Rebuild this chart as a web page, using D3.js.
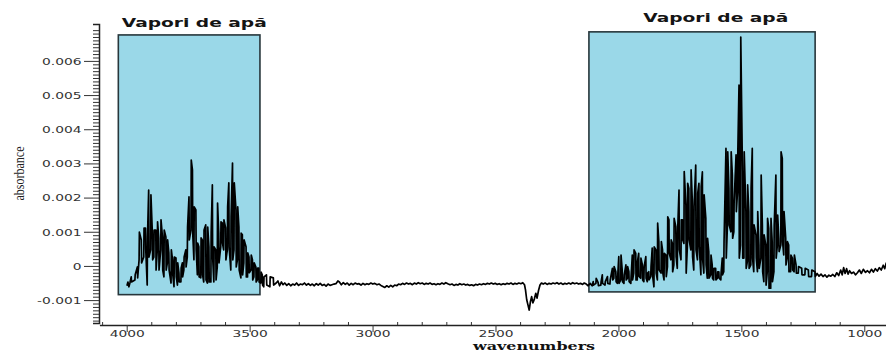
<!DOCTYPE html>
<html>
<head>
<meta charset="utf-8">
<script src="https://cdn.jsdelivr.net/npm/d3@7"></script>
<style>
  html, body { margin: 0; padding: 0; background: #fff; }
  svg { display: block; }
</style>
</head>
<body>
<svg id="chart" width="886" height="352"></svg>
<script>
// ---- Spectrum data: wavenumber (cm-1) and absorbance in units of 1e-3 ----
// Plain segments are [wavenumber, absorbance]; the dense water-vapour bands are
// stored as min/max envelopes [wavenumber, max, min] per ~6 cm-1 bin.

const edgeOH = [[3999,-0.58],[3995,-0.47],[3991,-0.61],[3987,-0.50]];

const bandOH = [
  [3981,-0.32,-0.47],[3966,-0.26,-0.41],[3956,-0.03,-0.35],[3949,0.99,0.18],[3940,0.76,0.09],
  [3930,1.11,0.26],[3923,1.11,0.47],[3916,0.85,-0.56],[3910,2.22,0.26],[3902,2.08,0.47],
  [3895,0.96,0.18],[3889,1.05,0.26],[3881,1.05,-0.12],[3875,1.29,0.47],[3869,0.82,-0.12],
  [3861,1.35,0.47],[3854,0.85,-0.12],[3848,1.05,-0.32],[3840,0.85,-0.12],[3834,0.76,0.09],
  [3828,0.38,-0.12],[3819,0.47,-0.50],[3813,0.18,-0.26],[3807,0.26,-0.61],[3799,0.23,-0.32],
  [3793,0.09,-0.56],[3787,-0.20,-0.47],[3779,-0.06,-0.47],[3773,0.09,-0.32],[3767,0.26,-0.12],
  [3759,0.47,-0.03],[3753,1.14,0.26],[3746,2.02,0.76],[3738,3.10,1.05],[3732,2.81,0.96],
  [3726,1.73,0.18],[3718,1.64,0.47],[3712,0.67,-0.26],[3706,0.56,-0.32],[3698,0.82,-0.35],
  [3692,0.76,-0.26],[3686,1.05,-0.47],[3678,1.20,-0.41],[3671,1.14,-0.50],[3665,0.56,-0.47],
  [3657,0.96,-0.47],[3651,2.37,0.26],[3645,0.56,-0.47],[3637,0.47,-0.41],[3631,1.84,-0.03],
  [3625,0.96,0.09],[3617,1.29,0.56],[3611,1.26,0.67],[3605,1.35,0.47],[3597,1.11,0.18],
  [3590,1.73,0.47],[3584,2.43,0.56],[3576,1.43,-0.12],[3569,3.01,0.18],[3563,2.43,0.47],
  [3555,1.64,-0.03],[3549,1.73,0.18],[3543,1.14,-0.12],[3535,0.96,-0.35],[3529,0.91,-0.26],
  [3523,0.76,0.09],[3514,0.56,-0.32],[3508,0.38,-0.32],[3502,0.26,-0.20],[3494,0.32,-0.12],
  [3488,0.18,-0.41],[3482,0.09,-0.32],[3474,-0.03,-0.47],[3468,-0.06,-0.41],[3462,-0.06,-0.47],
  [3454,-0.18,-0.50],[3448,-0.26,-0.56],[3442,-0.32,-0.61],[3431,-0.26,-0.56],[3417,-0.32,-0.61],
  [3403,-0.35,-0.56]
];

const baselineMid = [
  [3392,-0.50],[3385,-0.44],[3378,-0.58],[3371,-0.47],[3364,-0.55],[3357,-0.50],[3349,-0.57],
  [3341,-0.52],[3333,-0.58],[3325,-0.53],[3317,-0.56],[3309,-0.50],[3301,-0.57],[3293,-0.53],
  [3285,-0.55],[3277,-0.50],[3269,-0.56],[3261,-0.52],[3253,-0.57],[3245,-0.53],[3237,-0.58],
  [3229,-0.52],[3221,-0.56],[3213,-0.51],[3205,-0.57],[3197,-0.54],[3189,-0.59],[3181,-0.53],
  [3173,-0.57],[3165,-0.55],[3157,-0.53],[3149,-0.52],[3141,-0.44],[3135,-0.47],[3127,-0.55],
  [3119,-0.49],[3111,-0.54],[3103,-0.50],[3095,-0.56],[3087,-0.51],[3079,-0.55],[3071,-0.50],
  [3063,-0.53],[3055,-0.52],[3047,-0.56],[3039,-0.51],[3031,-0.55],[3023,-0.52],[3015,-0.54],
  [3007,-0.50],[2999,-0.53],[2991,-0.51],[2982,-0.55],[2974,-0.53],[2966,-0.57],[2958,-0.60],
  [2950,-0.63],[2942,-0.58],[2934,-0.62],[2926,-0.57],[2918,-0.61],[2910,-0.56],[2902,-0.58],
  [2894,-0.53],[2886,-0.55],[2878,-0.51],[2870,-0.54],[2862,-0.50],[2854,-0.53],[2846,-0.51],
  [2838,-0.55],[2830,-0.50],[2822,-0.53],[2814,-0.49],[2806,-0.52],[2798,-0.50],[2790,-0.54],
  [2782,-0.51],[2774,-0.53],[2766,-0.50],[2758,-0.54],[2750,-0.52],[2742,-0.55],[2734,-0.52],
  [2726,-0.54],[2718,-0.50],[2710,-0.53],[2702,-0.49],[2694,-0.52],[2685,-0.55],[2677,-0.53],
  [2669,-0.57],[2661,-0.54],[2653,-0.56],[2645,-0.52],[2637,-0.55],[2629,-0.53],[2621,-0.56],
  [2613,-0.54],[2605,-0.57],[2597,-0.55],[2589,-0.58],[2581,-0.54],[2573,-0.56],[2565,-0.53],
  [2557,-0.55],[2549,-0.52],[2541,-0.54],[2533,-0.51],[2525,-0.53],[2517,-0.50],[2509,-0.53],
  [2501,-0.51],[2493,-0.54],[2485,-0.52],[2477,-0.55],[2469,-0.52],[2461,-0.54],[2453,-0.51],
  [2445,-0.53],[2437,-0.50],[2429,-0.54],[2421,-0.51],[2413,-0.53],[2405,-0.50],[2397,-0.52],
  [2389,-0.49],[2382,-0.55],
  // CO2 asymmetric stretch dip
  [2378,-0.70],[2373,-0.99],[2368,-1.14],[2363,-1.29],[2358,-1.05],[2353,-0.90],[2348,-1.08],
  [2342,-0.97],[2336,-0.80],[2331,-0.94],[2325,-0.72],[2319,-0.56],[2313,-0.50],
  [2306,-0.53],[2298,-0.50],[2290,-0.54],[2282,-0.51],[2274,-0.53],[2266,-0.50],[2258,-0.52],
  [2250,-0.49],[2242,-0.53],[2234,-0.50],[2226,-0.54],[2218,-0.51],[2210,-0.53],[2202,-0.50],
  [2194,-0.53],[2186,-0.49],[2178,-0.52],[2170,-0.50],[2162,-0.53],[2154,-0.51],[2146,-0.54],
  [2139,-0.50],[2131,-0.53],[2123,-0.58],[2115,-0.51],[2107,-0.58]
];

const bandBend = [
  [2102,-0.46,-0.56],[2091,-0.36,-0.51],[2082,-0.49,-0.58],[2071,-0.46,-0.56],[2065,-0.26,-0.51],
  [2054,-0.46,-0.56],[2044,-0.31,-0.51],[2034,-0.41,-0.53],[2024,-0.07,-0.41],[2018,-0.02,-0.36],
  [2010,-0.17,-0.46],[2004,-0.36,-0.51],[1998,0.27,-0.51],[1990,0.32,-0.41],[1984,-0.12,-0.46],
  [1977,-0.26,-0.51],[1969,0.03,-0.41],[1963,-0.02,-0.36],[1957,-0.17,-0.46],[1949,-0.31,-0.51],
  [1943,0.32,-0.41],[1937,0.47,-0.21],[1929,0.37,-0.41],[1923,0.13,-0.41],[1917,0.37,-0.31],
  [1909,0.23,-0.36],[1902,0.03,-0.41],[1896,-0.02,-0.46],[1888,0.27,-0.36],[1882,-0.21,-0.46],
  [1876,-0.17,-0.41],[1868,-0.02,-0.31],[1862,0.52,-0.26],[1855,0.56,-0.61],[1847,0.47,-0.21],
  [1841,1.25,-0.41],[1835,0.71,-0.12],[1826,0.71,-0.21],[1820,0.47,-0.21],[1814,0.37,-0.41],
  [1806,0.32,-0.31],[1800,1.44,-0.02],[1794,1.35,0.37],[1786,0.76,0.18],[1780,0.66,-0.17],
  [1774,1.39,0.03],[1766,1.15,0.27],[1760,0.96,-0.07],[1753,2.22,0.47],[1745,1.35,0.18],
  [1739,1.35,0.76],[1733,2.76,0.66],[1725,1.78,-0.21],[1719,2.42,0.56],[1713,2.27,0.76],
  [1705,2.81,0.47],[1699,1.93,0.27],[1693,1.73,-0.12],[1685,2.95,0.47],[1678,2.13,0.18],
  [1672,2.42,0.56],[1664,2.32,-0.26],[1658,2.75,0.18],[1652,2.08,-0.21],[1644,1.39,0.03],
  [1638,0.81,-0.36],[1632,0.42,-0.36],[1624,0.32,-0.26],[1618,0.03,-0.36],[1612,-0.07,-0.41],
  [1604,-0.07,-0.41],[1597,-0.17,-0.36],[1591,-0.17,-0.36],[1583,-0.21,-0.41],[1577,0.23,-0.26],
  [1571,0.71,-0.17],[1562,3.44,0.23],[1556,3.34,1.20],[1550,2.27,1.20],[1542,3.34,1.00],
  [1536,2.66,0.81],[1530,1.88,1.00],[1521,3.25,1.59],[1515,3.34,2.17],[1509,5.29,0.23],
  [1503,6.70,0.61],[1495,2.76,0.23],[1489,3.34,0.23],[1481,1.59,-0.07],[1475,2.37,0.13],
  [1469,1.59,-0.07],[1461,2.27,0.03],[1455,3.44,0.23],[1449,1.20,-0.17],[1440,0.91,0.23],
  [1434,1.59,-0.17],[1428,0.61,-0.07],[1420,2.66,0.23],[1414,1.20,-0.17],[1408,0.91,-0.46],
  [1400,0.61,-0.56],[1394,1.39,-0.17],[1388,1.10,-0.65],[1380,1.39,-0.65],[1374,0.71,-0.46],
  [1367,1.20,-0.17],[1359,2.66,0.23],[1353,1.49,0.61],[1347,0.81,0.42],[1339,3.34,0.61],
  [1333,3.15,0.71],[1327,1.59,0.32],[1319,0.81,0.03],[1313,0.71,0.23],[1307,0.61,-0.17],
  [1299,0.32,-0.17],[1292,0.23,-0.12],[1285,0.32,-0.17],[1277,0.03,-0.21],[1268,-0.02,-0.21],
  [1254,-0.07,-0.26],[1241,-0.07,-0.26],[1227,-0.12,-0.31],[1214,-0.12,-0.31],[1200,-0.17,-0.31]
];

const baselineLow = [
  [1192,-0.22],[1184,-0.30],[1176,-0.24],[1168,-0.31],[1160,-0.26],[1152,-0.33],[1144,-0.27],
  [1136,-0.30],[1128,-0.25],[1120,-0.31],[1112,-0.20],[1104,-0.28],[1096,-0.12],[1090,-0.26],
  [1084,-0.05],[1078,-0.22],[1072,-0.08],[1066,-0.24],[1060,-0.14],[1052,-0.22],[1044,-0.18],
  [1036,-0.26],[1028,-0.20],[1020,-0.12],[1012,-0.22],[1004,-0.10],[995,-0.19],[987,-0.14],
  [979,-0.20],[971,-0.10],[963,-0.18],[955,-0.08],[947,-0.15],[939,-0.05],[931,-0.12],
  [923,0.02],[917,-0.08],[911,0.08],[905,-0.02]
];

// ---- Axes ----
const xTickValues = [4000, 3500, 3000, 2500, 2000, 1500, 1000];
const xTickLabels = ["4000", "3500", "3000", "2500", "2000", "1500", "1000"];
const yTickValues = [-0.001, 0, 0.001, 0.002, 0.003, 0.004, 0.005, 0.006];
const yTickLabels = ["-0.001", "0", "0.001", "0.002", "0.003", "0.004", "0.005", "0.006"];
const xTitle = "wavenumbers";
const yTitle = "absorbance";

// ---- Highlighted water-vapour regions ----
const regionNames = ["Vapori de apă", "Vapori de apă"];
const regionSpans = [[4034, 3458], [2120, 1200]];                // wavenumber from/to
const regionLevels = [[-0.00084, 0.00676], [-0.00076, 0.00685]]; // absorbance bottom/top
const regionLabelAt = [[4020, 0.00698], [1899, 0.00715]];        // label start (wavenumber, absorbance)

// ---------------------------------------------------------------
const svg = d3.select("#chart");
const x = d3.scaleLinear().domain([4111, 880]).range([99.4, 893.8]);
const y = d3.scaleLinear().domain([-0.00167, 0.00708]).range([323, 24]);
const TEXT_STRETCH = 1.5;

// expand a min/max envelope into a continuous trace of near-vertical strokes
function envelope(rows) {
  const pts = [];
  rows.forEach((r, i) => {
    const [w, hi, lo] = r;
    if (i % 2 === 0) { pts.push([w + 0.6, hi], [w - 0.6, lo]); }
    else { pts.push([w + 0.6, lo], [w - 0.6, hi]); }
  });
  return pts;
}
const trace = [].concat(edgeOH, envelope(bandOH), baselineMid, envelope(bandBend), baselineLow);

// region boxes
const regions = regionNames.map((name, i) => ({
  name, span: regionSpans[i], level: regionLevels[i], labelAt: regionLabelAt[i]
}));

svg.append("g").selectAll("rect").data(regions).join("rect")
  .attr("x", d => x(d.span[0]))
  .attr("y", d => y(d.level[1]))
  .attr("width", d => x(d.span[1]) - x(d.span[0]))
  .attr("height", d => y(d.level[0]) - y(d.level[1]))
  .attr("fill", "#9ad8e8")
  .attr("stroke", "#27363b")
  .attr("stroke-width", 1.6);

svg.append("g").selectAll("text").data(regions).join("text")
  .attr("x", d => x(d.labelAt[0]))
  .attr("y", d => y(d.labelAt[1]))
  .attr("textLength", 145)
  .attr("lengthAdjust", "spacingAndGlyphs")
  .attr("font-family", "'DejaVu Sans', Verdana, sans-serif")
  .attr("font-weight", "bold")
  .attr("font-size", 12.3)
  .attr("fill", "#141414")
  .text(d => d.name);

// spectrum trace
svg.append("path")
  .datum(trace)
  .attr("fill", "none")
  .attr("stroke", "#000")
  .attr("stroke-width", 1.7)
  .attr("stroke-linejoin", "round")
  .attr("d", d3.line().x(d => x(d[0])).y(d => y(d[1] / 1000)));

// y axis: minor ticks every 0.0001, major every 0.001
const yMinor = d3.range(-16, 71).map(i => i / 10000).filter(v => Math.abs(Math.round(v * 1000) - v * 1000) > 1e-6);
const gyMinor = svg.append("g").attr("transform", "translate(99,0)")
  .call(d3.axisLeft(y).tickValues(yMinor).tickSize(6).tickSizeOuter(6).tickFormat(""));
const gy = svg.append("g").attr("transform", "translate(99,0)")
  .call(d3.axisLeft(y).tickValues(yTickValues).tickSize(15).tickSizeOuter(0)
    .tickFormat((d, i) => yTickLabels[i]));
gy.select(".domain").remove();
gyMinor.select(".domain").attr("stroke", "#222").attr("stroke-width", 1.5);
gyMinor.selectAll(".tick line").attr("stroke", "#333");
gy.selectAll(".tick line").attr("stroke", "#333");
gy.selectAll(".tick text")
  .attr("x", -17.5 / TEXT_STRETCH)
  .attr("dy", 3.3)
  .attr("transform", `scale(${TEXT_STRETCH},1)`)
  .attr("font-family", "'DejaVu Sans', Verdana, sans-serif")
  .attr("font-size", 9.2)
  .attr("fill", "#333");

// x axis: minor ticks every 100 cm-1, major every 500
const xMinor = d3.range(1000, 4101, 100).filter(v => v % 500 !== 0);
const gxMinor = svg.append("g").attr("transform", "translate(0,325)")
  .call(d3.axisBottom(x).tickValues(xMinor).tickSize(-3).tickSizeOuter(0).tickFormat(""));
const gx = svg.append("g").attr("transform", "translate(0,325)")
  .call(d3.axisBottom(x).tickValues(xTickValues).tickSize(7).tickSizeOuter(0)
    .tickFormat((d, i) => xTickLabels[i]));
gx.select(".domain").remove();
gxMinor.select(".domain").attr("stroke", "#222").attr("stroke-width", 1.3);
gxMinor.selectAll(".tick line").attr("stroke", "#333");
gx.selectAll(".tick line").attr("stroke", "#333");
gx.selectAll(".tick text")
  .attr("y", 12.3)
  .attr("dy", 0)
  .attr("transform", `scale(${TEXT_STRETCH},1)`)
  .attr("font-family", "'DejaVu Sans', Verdana, sans-serif")
  .attr("font-size", 9.2)
  .attr("fill", "#333");

// axis titles
svg.append("text")
  .attr("x", 534).attr("y", 349.5)
  .attr("text-anchor", "middle")
  .attr("textLength", 122)
  .attr("lengthAdjust", "spacingAndGlyphs")
  .attr("font-family", "'DejaVu Serif', Georgia, serif")
  .attr("font-weight", "bold")
  .attr("font-size", 11)
  .attr("fill", "#111")
  .text(xTitle);

svg.append("text")
  .attr("transform", "translate(24,173.5) rotate(-90)")
  .attr("text-anchor", "middle")
  .attr("textLength", 54)
  .attr("lengthAdjust", "spacingAndGlyphs")
  .attr("font-family", "'Liberation Serif', 'Times New Roman', serif")
  .attr("font-size", 15)
  .attr("fill", "#222")
  .text(yTitle);
</script>
</body>
</html>
